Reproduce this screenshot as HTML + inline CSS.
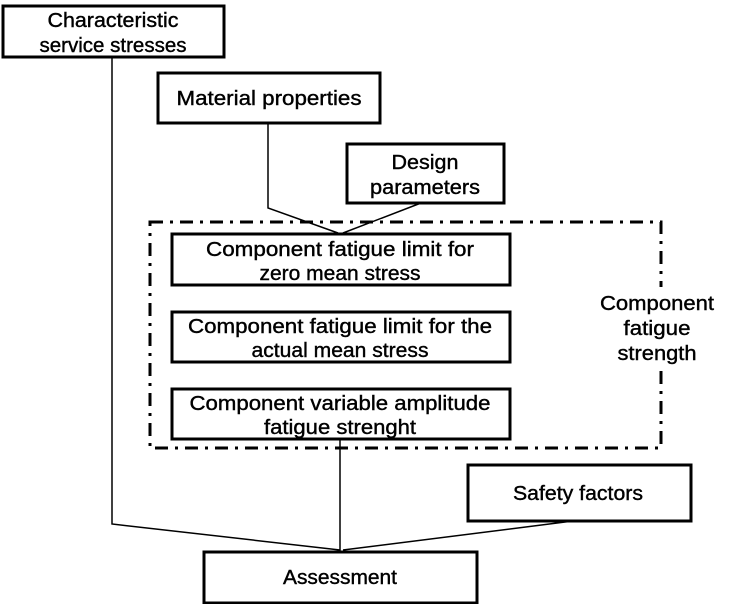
<!DOCTYPE html>
<html><head><meta charset="utf-8"><style>
body{margin:0;background:#fff;width:733px;height:604px;overflow:hidden}
svg{display:block}
text{font-family:"Liberation Sans",sans-serif;font-size:20px;fill:#000;stroke:#000;stroke-width:0.4;text-anchor:middle}
</style></head><body>
<svg width="733" height="604" viewBox="0 0 733 604">
<g fill="none" stroke="#000" stroke-width="1.5">
<polyline points="112,57 112,524 340,550"/>
<polyline points="268,123 268,208 338,233"/>
<line x1="421" y1="203" x2="343" y2="233"/>
<line x1="340" y1="439" x2="340" y2="551"/>
<line x1="573" y1="521" x2="343" y2="550"/>
</g>
<rect x="150" y="222" width="511" height="226" fill="none" stroke="#000" stroke-width="3" stroke-dasharray="13 7 3 7"/>
<rect x="650" y="287" width="22" height="83" fill="#fff"/>
<g fill="#fff" stroke="#000" stroke-width="3">
<rect x="3" y="6" width="221" height="51"/>
<rect x="158" y="73" width="222" height="50"/>
<rect x="347" y="144" width="157" height="59"/>
<rect x="172" y="234" width="338" height="51"/>
<rect x="172" y="312" width="338" height="50"/>
<rect x="172" y="389" width="338" height="50"/>
<rect x="468" y="465" width="223" height="56"/>
<rect x="204" y="552" width="273" height="51"/>
</g>
<text x="113" y="27" textLength="131" lengthAdjust="spacingAndGlyphs">Characteristic</text>
<text x="113" y="52" textLength="147" lengthAdjust="spacingAndGlyphs">service stresses</text>
<text x="269" y="105" textLength="185" lengthAdjust="spacingAndGlyphs">Material properties</text>
<text x="425" y="169" textLength="67" lengthAdjust="spacingAndGlyphs">Design</text>
<text x="425" y="194" textLength="110" lengthAdjust="spacingAndGlyphs">parameters</text>
<text x="340" y="256" textLength="268" lengthAdjust="spacingAndGlyphs">Component fatigue limit for</text>
<text x="340" y="280" textLength="161" lengthAdjust="spacingAndGlyphs">zero mean stress</text>
<text x="340" y="333" textLength="304" lengthAdjust="spacingAndGlyphs">Component fatigue limit for the</text>
<text x="340" y="357" textLength="177" lengthAdjust="spacingAndGlyphs">actual mean stress</text>
<text x="340" y="410" textLength="301" lengthAdjust="spacingAndGlyphs">Component variable amplitude</text>
<text x="340" y="434" textLength="152" lengthAdjust="spacingAndGlyphs">fatigue strenght</text>
<text x="657" y="310" textLength="114" lengthAdjust="spacingAndGlyphs">Component</text>
<text x="657" y="335" textLength="67" lengthAdjust="spacingAndGlyphs">fatigue</text>
<text x="657" y="360" textLength="79" lengthAdjust="spacingAndGlyphs">strength</text>
<text x="578" y="500" textLength="130" lengthAdjust="spacingAndGlyphs">Safety factors</text>
<text x="340" y="584" textLength="114" lengthAdjust="spacingAndGlyphs">Assessment</text>
</svg>
</body></html>
